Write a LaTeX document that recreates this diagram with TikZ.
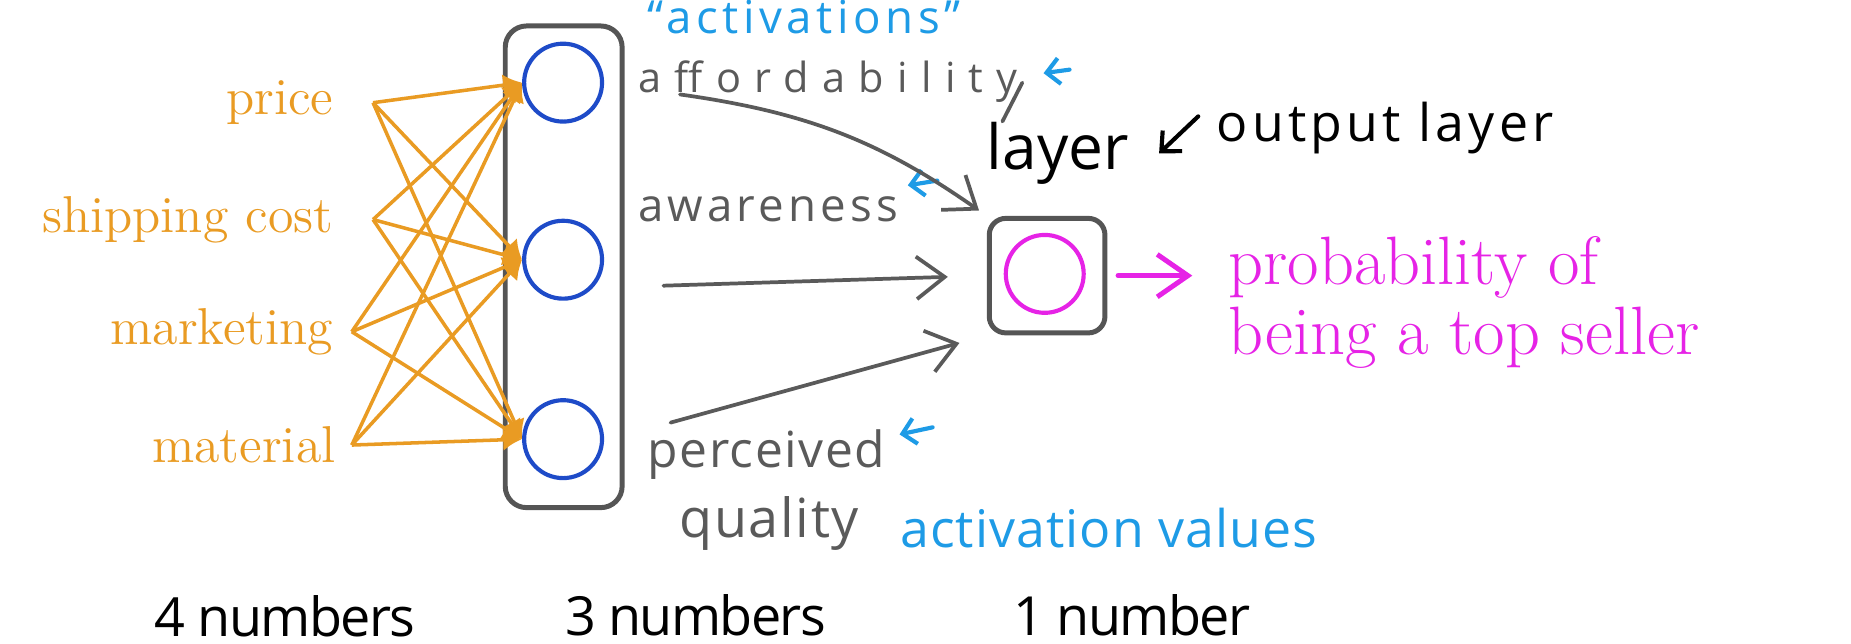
\documentclass[tikz,border=0pt]{standalone}
\usepackage{fontspec}
\usepackage{tikz}
\usetikzlibrary{positioning,arrows.meta}
\newfontfamily\handfont{Open Sans}
\newfontfamily\labelfont{Open Sans}
\newcommand{\handsz}[2]{\handfont\fontsize{#1}{#1}\selectfont\addfontfeature{LetterSpace=#2}}
\definecolor{inorange}{RGB}{233,155,35}
\definecolor{hblue}{RGB}{30,75,200}
\definecolor{boxgray}{RGB}{85,85,85}
\definecolor{handgray}{RGB}{90,90,90}
\definecolor{actblue}{RGB}{30,155,230}
\definecolor{outmag}{RGB}{230,35,230}

\begin{document}
\begin{tikzpicture}[
    inlbl/.style={anchor=east, inner sep=0pt, text=inorange, font=\fontsize{12.5}{15}\selectfont},
    unit/.style={circle, line width=1pt, minimum size=0.66cm, inner sep=0pt},
    lbox/.style={draw=boxgray, line width=1.2pt, inner sep=0pt},
    inarr/.style={-{Latex[length=1.6mm,width=1.9mm]}, draw=inorange, line width=0.85pt},
    garr/.style={-{Straight Barb[length=2.4mm,width=3.6mm]}, draw=handgray, line width=0.9pt, line cap=round},
    barr/.style={-{Straight Barb[length=1.1mm,width=2.2mm]}, draw=actblue, line width=1pt, line cap=round},
    hand/.style={anchor=base west, inner sep=0pt}
]
\useasboundingbox (0,0) rectangle (15.68,5.45);

% input features
\node[inlbl] (price) at (2.83,4.58) {price};
\node[inlbl] (ship)  at (2.83,3.59) {shipping cost};
\node[inlbl] (mkt)   at (2.83,2.64) {marketing};
\node[inlbl] (mat)   at (2.85,1.68) {material};
\coordinate (fp) at (3.16,4.58);
\coordinate (fs) at (3.16,3.59);
\coordinate (fm) at (2.98,2.64);
\coordinate (fq) at (2.98,1.68);

% hidden layer
\node[lbox, rounded corners=0.18cm, minimum width=0.99cm, minimum height=4.08cm] (hbox) at (4.775,3.19) {};
\node[unit, draw=hblue] (h1) at (4.77,4.75) {};
\node[unit, draw=hblue] (h2) at (4.77,3.25) {};
\node[unit, draw=hblue] (h3) at (4.77,1.73) {};

\draw[inarr] (fp) -- (h1.west); \draw[inarr] (fp) -- (h2.west); \draw[inarr] (fp) -- (h3.west);
\draw[inarr] (fs) -- (h1.west); \draw[inarr] (fs) -- (h2.west); \draw[inarr] (fs) -- (h3.west);
\draw[inarr] (fm) -- (h1.west); \draw[inarr] (fm) -- (h2.west); \draw[inarr] (fm) -- (h3.west);
\draw[inarr] (fq) -- (h1.west); \draw[inarr] (fq) -- (h2.west); \draw[inarr] (fq) -- (h3.west);

% output layer
\node[lbox, rounded corners=0.14cm, minimum width=0.98cm, minimum height=0.97cm] (obox) at (8.87,3.115) {};
\node[unit, draw=outmag] (o1) at (8.85,3.13) {};
\node[anchor=west, inner sep=0pt, align=left, text=outmag, font=\fontsize{16.5}{16.8}\selectfont]
    (prob) at (10.40,2.89) {probability of\\being a top seller};
\draw[-{Straight Barb[length=2.6mm,width=3.6mm]}, draw=outmag, line width=1.2pt, line cap=round,
      shorten <=0.09cm, shorten >=0.30cm] (obox.east) -- (obox.east -| prob.west);

% handwritten notes
\node[hand, text=actblue, font=\handsz{11}{10}] (acts) at (5.48,5.17) {“activations”};
\node[hand, text=handgray, font=\handsz{10}{32}] (aff) at (5.40,4.67) {affordability};
\node[hand, text=handgray, font=\handsz{11}{9}] (awa) at (5.40,3.57) {awareness};
\node[hand, text=handgray, font=\handsz{12}{3}] (perc) at (5.48,1.49) {perceived};
\node[hand, text=handgray, font=\handsz{13}{3}] (qual) at (5.75,0.90) {quality};
\node[hand, text=actblue, font=\handsz{12.5}{2}] (actv) at (7.62,0.81) {activation values};
\node[inner sep=0pt, font=\labelfont\fontsize{15}{15}\selectfont] (layer) at (8.96,4.15) {layer};
\node[hand, font=\handsz{12.5}{8}] (outl) at (10.30,4.25) {output layer};

\coordinate (ytail) at (8.66,4.75);
\draw[handgray, line width=0.9pt, line cap=round] (ytail) -- ([xshift=0.14cm]layer.north west);
\draw[-{Straight Barb[length=1.3mm,width=2.4mm]}, line width=1pt, line cap=round]
    ([shift={(-0.15,0.1)}]outl.west) -- ([xshift=0.25cm]layer.east);

\coordinate (b1) at (9.06,4.86); \coordinate (b1t) at (8.84,4.83);
\coordinate (b2) at (7.94,3.92); \coordinate (b2t) at (7.69,3.88);
\coordinate (b3) at (7.90,1.83); \coordinate (b3t) at (7.62,1.77);
\draw[barr] (b1) -- (b1t); \draw[barr] (b2) -- (b2t); \draw[barr] (b3) -- (b3t);

% activations into output unit
\coordinate (a1) at (5.76,4.65);
\coordinate (a2) at (5.62,3.03);
\coordinate (a3) at (5.68,1.87);
\draw[garr, shorten >=0.08cm] (a1) to[out=-8,in=145] (obox.north west);
\draw[garr, shorten >=0.33cm] (a2) -- (obox.west);
\draw[garr, shorten >=0.24cm] (a3) -- (obox.south west);

% sizes
\node[hand, font=\handsz{13}{-3}] (n4) at (1.30,0.06) {4 numbers};
\node[hand, font=\handsz{13}{-3}] (n3) at (4.78,0.07) {3 numbers};
\node[hand, font=\handsz{13}{-3}] (n1) at (8.58,0.07) {1 number};
\end{tikzpicture}
\end{document}
